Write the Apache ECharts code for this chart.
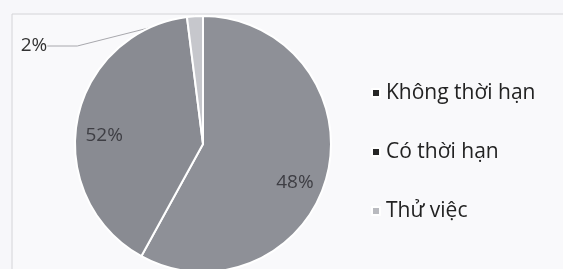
<!DOCTYPE html>
<html>
<head>
<meta charset="utf-8">
<script src="https://cdn.jsdelivr.net/npm/echarts@6/dist/echarts.min.js"></script>
<style>
  html, body { margin: 0; padding: 0; background: #f7f7fa; }
  #chart { width: 563px; height: 269px; }
</style>
</head>
<body>
<div id="chart"></div>
<script>
// loai hop dong
var categories = ['Không thời hạn', 'Có thời hạn', 'Thử việc'];
// slice sizes as drawn in the picture (share of the circle, %)
var values = [58, 40, 2];
// percent text printed on the picture
var pctLabels = ['48%', '52%', '2%'];

var sliceColors = ['#8e9097', '#898b92', '#c6c7cc'];
var legendColors = ['#262626', '#262626', '#b9babf'];

var chart = echarts.init(document.getElementById('chart'));

var data = categories.map(function (name, i) {
  var item = { name: name, value: values[i], itemStyle: { color: sliceColors[i] } };
  if (i === 0) item.label = { position: 'inside', offset: [27, 22] };
  if (i === 1) item.label = { position: 'inside', offset: [-33, 4] };
  if (i === 2) item.label = { position: 'outside', color: '#333' };
  return item;
});

chart.setOption({
  animation: false,
  graphic: [{
    type: 'rect',
    shape: { x: 12, y: 14, width: 560, height: 270 },
    style: { fill: '#f9f9fb', stroke: '#d4d4d8', lineWidth: 1 },
    z: -10
  }],
  legend: {
    orient: 'vertical',
    left: 366,
    top: 76,
    itemGap: 35,
    itemWidth: 8,
    itemHeight: 8,
    icon: 'rect',
    textStyle: { fontFamily: 'Open Sans', fontSize: 21, lineHeight: 24, color: '#222', padding: [0, 0, 0, 1] },
    data: categories.map(function (name, i) {
      return { name: name, itemStyle: { color: legendColors[i] } };
    })
  },
  series: [{
    type: 'pie',
    center: [203, 144],
    radius: 128,
    startAngle: 90,
    clockwise: true,
    avoidLabelOverlap: false,
    itemStyle: { borderColor: '#ffffff', borderWidth: 2 },
    label: {
      formatter: function (p) { return pctLabels[p.dataIndex]; },
      fontFamily: 'Open Sans',
      fontSize: 19,
      color: '#3e3e44'
    },
    labelLine: { show: true, lineStyle: { color: '#a8a8ad', width: 1 } },
    labelLayout: function (p) {
      if (p.dataIndex === 2) {
        return { x: 34, y: 46, align: 'center', verticalAlign: 'middle' };
      }
      return {};
    },
    emphasis: { disabled: true },
    data: data
  }]
});
</script>
</body>
</html>
